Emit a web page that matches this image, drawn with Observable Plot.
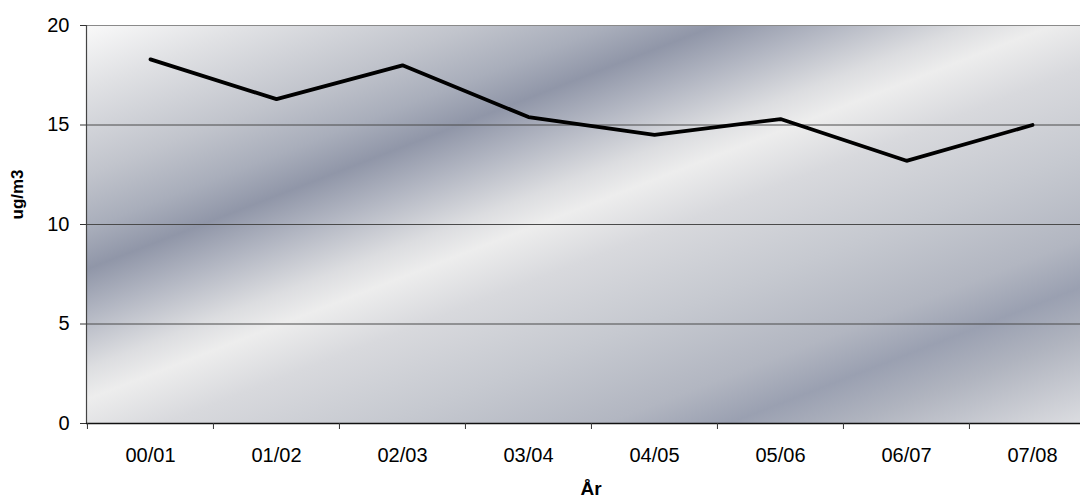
<!DOCTYPE html>
<html>
<head>
<meta charset="utf-8">
<script src="https://cdn.jsdelivr.net/npm/d3@7"></script>
<script src="https://cdn.jsdelivr.net/npm/@observablehq/plot@0.6"></script>
<style>
  html, body { margin: 0; padding: 0; background: #fff; overflow: hidden; }
  #chart svg { display: block; max-width: none !important; height: 503px !important; }
</style>
</head>
<body>
<div id="chart"></div>
<script>
const years = ["00/01", "01/02", "02/03", "03/04", "04/05", "05/06", "06/07", "07/08"];
const values = [18.3, 16.3, 18.0, 15.4, 14.5, 15.3, 13.2, 15.0];
const yTicks = [0, 5, 10, 15, 20];
const gridTicks = [5, 10, 15];
const yLabel = "ug/m3";
const xLabel = "År";

const data = years.map((y, i) => ({year: y, value: values[i]}));

const W = 1096, H = 503, mL = 86, mR = 1, mT = 25, mB = 80;
const bw = (W - mL - mR) / years.length;
const font = "'Liberation Sans', Arial, sans-serif";

const chart = Plot.plot({
  width: W,
  height: H,
  marginLeft: mL,
  marginRight: mR,
  marginTop: mT,
  marginBottom: mB,
  style: {fontFamily: font, fontSize: "20px", color: "#000", background: "transparent"},
  x: {type: "band", domain: years, padding: 0, align: 0.5},
  y: {domain: [0, 20]},
  marks: [
    Plot.frame({fill: "url(#bgGrad)", stroke: "none"}),
    Plot.ruleY(gridTicks, {stroke: "#4a4a4a", strokeWidth: 1}),
    Plot.ruleY([20], {stroke: "#8a8a8a", strokeWidth: 1.2}),
    Plot.frame({anchor: "left", stroke: "#444", strokeWidth: 1.2}),
    Plot.ruleY([0], {stroke: "#111", strokeWidth: 1.5}),
    Plot.axisY({ticks: yTicks, tickSize: 6, tickPadding: 11, label: null, fontSize: 20, stroke: "#333"}),
    Plot.axisX({tickSize: 6, tickFormat: () => "", dx: -bw / 2, label: null, stroke: "#333"}),
    Plot.axisX({tickSize: 0, tickPadding: 24, label: null, fontSize: 20}),
    Plot.line(data, {x: "year", y: "value", stroke: "#000", strokeWidth: 3.8, strokeLinejoin: "miter", strokeLinecap: "round"}),
    Plot.text([yLabel], {frameAnchor: "left", rotate: -90, dx: -69, dy: -5, fontWeight: "bold", fontSize: 17}),
    Plot.text([xLabel], {frameAnchor: "bottom", dy: 71, fontWeight: "bold", fontSize: 19})
  ]
});

// gradient background definition
const svg = d3.select(chart);
const defs = svg.insert("defs", ":first-child");
const L = 733;
const grad = defs.append("linearGradient")
  .attr("id", "bgGrad")
  .attr("gradientUnits", "userSpaceOnUse")
  .attr("x1", 86).attr("y1", 25)
  .attr("x2", 86 + L * 0.36).attr("y2", 25 + L * 0.93);
const stops = [
  [0, "#f9f9f9"],
  [60, "#e0e1e4"],
  [140, "#c1c4cc"],
  [190, "#a9aebb"],
  [228, "#9096a8"],
  [270, "#b2b6c2"],
  [320, "#dcdde0"],
  [350, "#ededed"],
  [400, "#d8d9dd"],
  [480, "#c6c9d0"],
  [560, "#b2b6c1"],
  [605, "#9aa0b1"],
  [650, "#b0b4bf"],
  [733, "#dcdde1"]
];
stops.forEach(([t, c]) => grad.append("stop").attr("offset", (t / L).toFixed(3)).attr("stop-color", c));

document.getElementById("chart").appendChild(chart);
</script>
</body>
</html>
